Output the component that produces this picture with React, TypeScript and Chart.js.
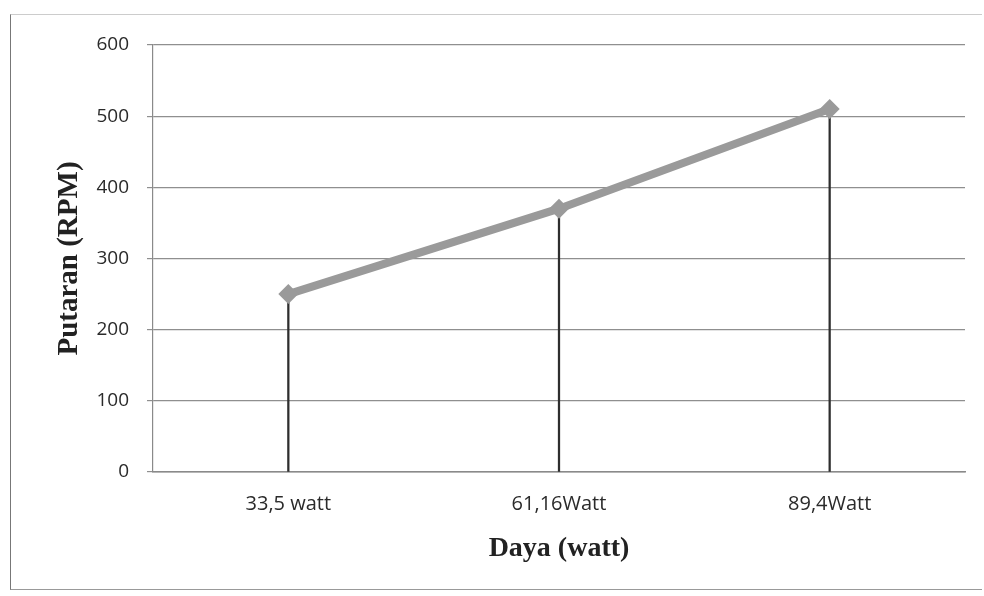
import React, { useEffect, useRef } from "react";
import { Chart, registerables } from "chart.js";

Chart.register(...registerables);

const categories = ["33,5 watt", "61,16Watt", "89,4Watt"];
const rpmValues = [250, 370, 510];
const yTicks = [0, 100, 200, 300, 400, 500, 600];

export default function App() {
  const ref = useRef<HTMLCanvasElement | null>(null);
  useEffect(() => {
    if (!ref.current) return;
    const chart = new Chart(ref.current, {
      type: "line",
      data: {
        labels: categories,
        datasets: [
          {
            type: "line",
            label: "Putaran",
            data: rpmValues,
            borderColor: "#9a9a9a",
            backgroundColor: "#9a9a9a",
            borderWidth: 8,
            pointStyle: "rectRot",
            pointRadius: 10,
            pointBackgroundColor: "#9a9a9a",
            pointBorderColor: "#9a9a9a",
            pointBorderWidth: 0,
            order: 1,
          },
          {
            type: "bar",
            label: "drop",
            data: rpmValues,
            backgroundColor: "#2e2e2e",
            barThickness: 1.6,
            order: 2,
          } as any,
        ],
      },
      options: {
        animation: false,
        responsive: false,
        maintainAspectRatio: false,
        layout: { padding: { left: 52, top: 45, right: 19, bottom: 30 } },
        plugins: { legend: { display: false }, tooltip: { enabled: false } },
        scales: {
          x: {
            offset: true,
            grid: { display: false, drawTicks: false },
            border: { color: "#8a8a8a", width: 1.5 },
            ticks: { color: "#2a2a2a", font: { family: "'Open Sans', 'Liberation Sans', sans-serif", size: 20 }, padding: 20 },
            title: {
              display: true,
              text: "Daya (watt)",
              color: "#222",
              font: { family: "'Liberation Serif', 'Times New Roman', serif", size: 28, weight: "bold" },
              padding: { top: 0, bottom: 0 },
            },
            afterFit: (s: any) => { s.height = 94; },
          },
          y: {
            min: 0,
            max: 600,
            afterBuildTicks: (s: any) => { s.ticks = yTicks.map((v) => ({ value: v })); },
            grid: { color: "#8f8f8f", lineWidth: 1.2, tickLength: 6 },
            border: { color: "#8a8a8a", width: 1.2 },
            ticks: { color: "#2a2a2a", font: { family: "'Open Sans', 'Liberation Sans', sans-serif", size: 19 }, padding: 18 },
            title: {
              display: true,
              text: "Putaran (RPM)",
              color: "#222",
              font: { family: "'Liberation Serif', 'Times New Roman', serif", size: 29, weight: "bold" },
              padding: { top: 0, bottom: 0 },
            },
            afterFit: (s: any) => { s.width = 101; },
          },
        },
      },
    });
    return () => chart.destroy();
  }, []);
  return (
    <div style={{ position: "absolute", left: 0, top: 0, width: 984, height: 596, background: "#fff" }}>
      <div style={{ position: "absolute", left: 10, top: 14, width: 972, height: 576, borderLeft: "1.5px solid #777", borderBottom: "1.5px solid #999", borderTop: "1px solid #ccc", boxSizing: "border-box" }} />
      <canvas ref={ref} width={984} height={596} style={{ position: "absolute", left: 0, top: 0 }} />
    </div>
  );
}
